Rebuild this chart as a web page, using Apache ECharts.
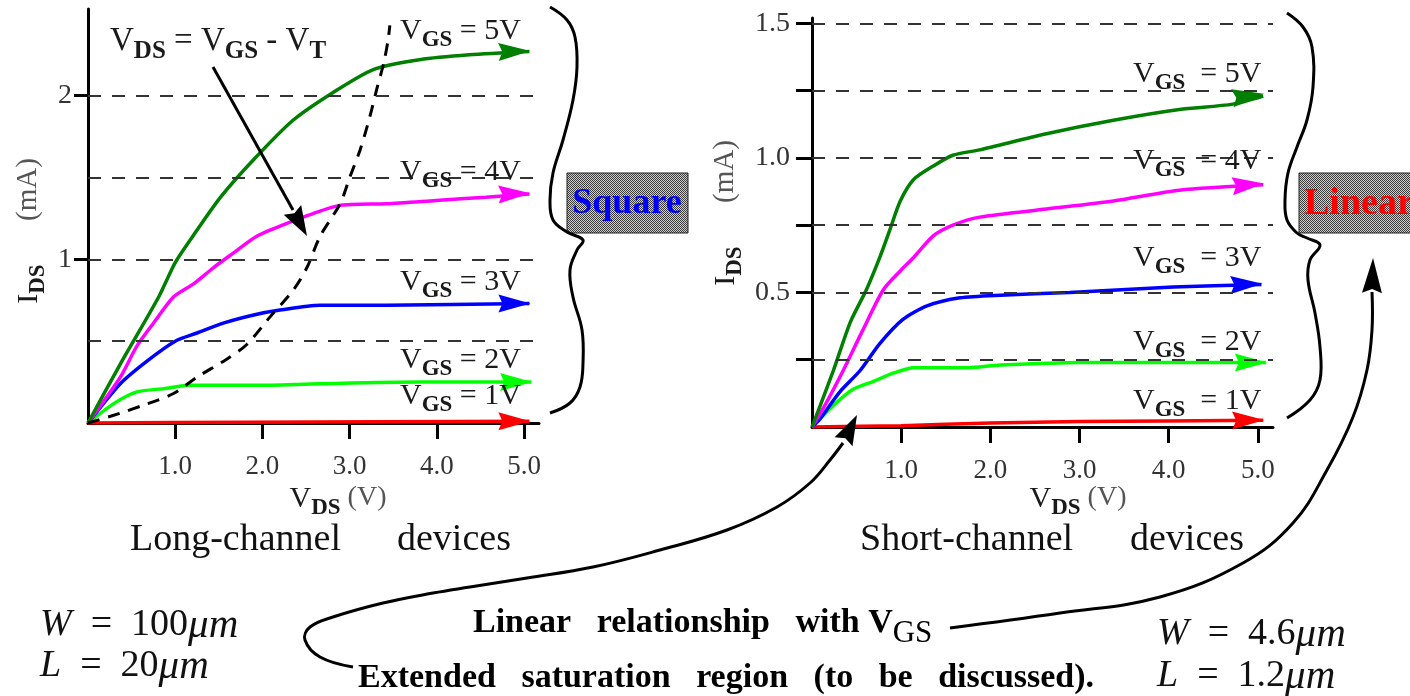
<!DOCTYPE html>
<html><head><meta charset="utf-8">
<script src="https://cdn.jsdelivr.net/npm/echarts@6/dist/echarts.min.js"></script>
<style>html,body{margin:0;padding:0;background:#fff}#c{width:1410px;height:696px}</style>
</head><body><div id="c"></div>
<script>
// ---------- axis ticks / labels ----------
const xTicks = [1, 2, 3, 4, 5];
const leftYTicks = [1, 2];
const leftGridY = [0.5, 1, 1.5, 2];
const rightYTicks = [0.25, 0.5, 0.75, 1.0, 1.25, 1.5];
const rightYLabels = [0.5, 1.0, 1.5];
const rightGridY = [0.25, 0.5, 0.75, 1.0, 1.25, 1.5];

// ---------- long-channel device: [VDS (V), IDS (mA)] ----------
const longVgs5 = [[0,0],[0.37,0.36],[0.81,0.77],[1.0,0.98],[1.2,1.14],[1.52,1.38],[1.9,1.61],[2.35,1.85],[2.81,2.02],[3.27,2.16],[3.8,2.22],[4.37,2.25],[5.06,2.27]];
const longVgs4 = [[0,0],[0.37,0.28],[0.56,0.47],[0.75,0.61],[0.98,0.77],[1.21,0.85],[1.44,0.95],[1.67,1.04],[1.93,1.14],[2.28,1.22],[2.58,1.28],[2.89,1.33],[3.42,1.34],[3.99,1.36],[4.56,1.38],[5.06,1.40]];
const longVgs3 = [[0,0],[0.37,0.24],[0.68,0.38],[1.0,0.50],[1.25,0.55],[1.55,0.61],[1.9,0.66],[2.2,0.69],[2.66,0.72],[3.42,0.72],[5.06,0.73]];
const longVgs2 = [[0,0],[0.3,0.12],[0.56,0.19],[0.87,0.21],[1.17,0.23],[1.9,0.23],[2.66,0.24],[3.8,0.25],[5.08,0.25]];
const longVgs1 = [[0,0],[1.8,0.005],[5.06,0.01]];
const longLocus = [[0,0],[0.37,0.06],[0.64,0.11],[0.98,0.18],[1.25,0.28],[1.59,0.39],[1.82,0.48],[2.09,0.65],[2.35,0.81],[2.51,0.95],[2.66,1.14],[2.89,1.34],[3.0,1.5],[3.12,1.67],[3.23,1.87],[3.31,2.04],[3.39,2.2],[3.44,2.34],[3.46,2.43]];

// ---------- short-channel device ----------
const shortVgs5 = [[0,0],[0.24,0.21],[0.43,0.39],[0.61,0.51],[0.76,0.63],[0.87,0.73],[0.99,0.84],[1.14,0.92],[1.36,0.97],[1.58,1.01],[1.88,1.03],[2.63,1.09],[3.38,1.14],[4.12,1.18],[4.72,1.2],[5.06,1.23]];
const shortVgs4 = [[0,0],[0.16,0.09],[0.35,0.21],[0.57,0.36],[0.8,0.51],[0.99,0.58],[1.14,0.63],[1.36,0.71],[1.58,0.75],[1.88,0.78],[2.63,0.81],[3.38,0.84],[4.12,0.88],[5.06,0.90]];
const shortVgs3 = [[0,0],[0.09,0.03],[0.31,0.13],[0.54,0.21],[0.76,0.31],[1.02,0.40],[1.29,0.45],[1.66,0.48],[2.11,0.49],[2.89,0.50],[4.05,0.52],[5.04,0.53]];
const shortVgs2 = [[0,0],[0.24,0.08],[0.46,0.14],[0.69,0.17],[0.91,0.2],[1.14,0.22],[1.73,0.22],[2.11,0.23],[3.0,0.24],[5.09,0.24]];
const shortVgs1 = [[0,0],[1.0,0.005],[2.0,0.015],[3.0,0.02],[5.06,0.025]];

const SERIF = '"Liberation Serif", "Times New Roman", serif';
const ARROW = 'path://M9,0 L18,32 L9,28 L0,32 Z';

function xAx(gi) {
  return {
    type: 'value', gridIndex: gi, min: 0, max: 5.17, interval: 1,
    axisLine: { show: true, onZero: false, lineStyle: { color: '#000', width: 3 } },
    axisTick: { show: true, customValues: xTicks, length: 16, lineStyle: { color: '#000', width: 3 } },
    axisLabel: { customValues: xTicks, formatter: v => Number(v).toFixed(1), color: '#333', fontFamily: SERIF, fontSize: 27, margin: 30 },
    splitLine: { show: false }
  };
}
const yAxes = [
  { type: 'value', gridIndex: 0, min: 0, max: 2.53, interval: 0.5,
    axisLine: { show: true, onZero: false, lineStyle: { color: '#000', width: 3 } },
    axisTick: { show: true, customValues: leftYTicks, length: 14, lineStyle: { color: '#000', width: 3 } },
    axisLabel: { customValues: leftYTicks, formatter: v => String(v), color: '#333', fontFamily: SERIF, fontSize: 28, margin: 16 },
    splitLine: { show: false } },
  { type: 'value', gridIndex: 1, min: 0, max: 1.52, interval: 0.25,
    axisLine: { show: true, onZero: false, lineStyle: { color: '#000', width: 3 } },
    axisTick: { show: true, customValues: rightYTicks, length: 16, lineStyle: { color: '#000', width: 3 } },
    axisLabel: { customValues: rightYLabels, formatter: v => Number(v).toFixed(1), color: '#333', fontFamily: SERIF, fontSize: 28, margin: 22 },
    splitLine: { show: false } }
];

function curve(data, color, gi, rot) {
  const d = data.map((p, i) => i === data.length - 1
    ? { value: p, symbol: ARROW, symbolSize: [18, 32], symbolRotate: rot, symbolOffset: [-15, 0], itemStyle: { color: color } }
    : p);
  return { type: 'line', xAxisIndex: gi, yAxisIndex: gi, data: d, symbol: 'none', smooth: 0.25,
    lineStyle: { color: color, width: 3.5 }, itemStyle: { color: color }, silent: true, z: 3 };
}
function gridSeries(gi, vals) {
  return { type: 'line', xAxisIndex: gi, yAxisIndex: gi, data: [], silent: true, z: 1,
    markLine: { silent: true, symbol: ['none', 'none'], label: { show: false },
      lineStyle: { color: '#333', width: 2, type: [13, 11] },
      data: vals.map(v => ({ yAxis: v })) } };
}

const GREEN = '#007f00', MAG = '#ff00ff', BLUE = '#0000ff', LIME = '#00ff00', RED = '#ff0000';

// ---------- annotation helpers ----------
const rich = {
  v: { fontFamily: SERIF, fontSize: 30, fill: '#1a1a1a', verticalAlign: 'top', lineHeight: 32 },
  s: { fontFamily: SERIF, fontSize: 23, fontWeight: 'bold', fill: '#1a1a1a', verticalAlign: 'top', lineHeight: 32, padding: [13, 0, 0, 0] },
  V: { fontFamily: SERIF, fontSize: 33, fill: '#1a1a1a', verticalAlign: 'top', lineHeight: 34 },
  S: { fontFamily: SERIF, fontSize: 25, fontWeight: 'bold', fill: '#1a1a1a', verticalAlign: 'top', lineHeight: 34, padding: [14, 0, 0, 0] },
  g: { fontFamily: SERIF, fontSize: 28, fill: '#555', verticalAlign: 'top', lineHeight: 32 },
  gy: { fontFamily: SERIF, fontSize: 29, fill: '#555', verticalAlign: 'top', lineHeight: 32 },
  bb: { fontFamily: SERIF, fontSize: 34, fontWeight: 'bold', fill: '#000', verticalAlign: 'top', lineHeight: 36 },
  bs: { fontFamily: SERIF, fontSize: 31, fill: '#000', verticalAlign: 'top', lineHeight: 36, padding: [12, 0, 0, 0] },
  mi: { fontFamily: SERIF, fontSize: 38, fontStyle: 'italic', fill: '#111', verticalAlign: 'top', lineHeight: 40 },
  mu: { fontFamily: SERIF, fontSize: 41, fontStyle: 'italic', fill: '#111', verticalAlign: 'top', lineHeight: 40 },
  mn: { fontFamily: SERIF, fontSize: 38, fill: '#111', verticalAlign: 'top', lineHeight: 40 }
};
function rt(x, y, text) {
  return { type: 'text', x: x, y: y, silent: true, z: 10,
    style: { text: text, rich: rich, align: 'left', verticalAlign: 'middle' } };
}
function rc(x, y, text, rotation) {
  return { type: 'text', x: x, y: y, rotation: rotation || 0, silent: true, z: 10,
    style: { text: text, rich: rich, align: 'center', verticalAlign: 'middle' } };
}
function plain(x, y, text, font, fill, align) {
  return { type: 'text', x: x, y: y, silent: true, z: 10,
    style: { text: text, font: font, fill: fill || '#111', align: align || 'left', verticalAlign: 'middle' } };
}
function poly(points) {
  return { type: 'polyline', silent: true, z: 8, shape: { points: points, smooth: 0.4 },
    style: { stroke: '#000', lineWidth: 3, fill: null } };
}
function head(from, tip, L, W) {
  const dx = tip[0] - from[0], dy = tip[1] - from[1], d = Math.hypot(dx, dy), ux = dx / d, uy = dy / d;
  const bx = tip[0] - ux * L, by = tip[1] - uy * L;
  return { type: 'polygon', silent: true, z: 9,
    shape: { points: [tip, [bx - uy * W / 2, by + ux * W / 2], [bx + ux * 4, by + uy * 4], [bx + uy * W / 2, by - ux * W / 2]] },
    style: { fill: '#000' } };
}

const pc = document.createElement('canvas'); pc.width = 2; pc.height = 2;
const pg = pc.getContext('2d'); pg.fillStyle = '#d0d0d0'; pg.fillRect(0, 0, 2, 2);
pg.fillStyle = '#3a3a3a'; pg.fillRect(0, 0, 1, 1); pg.fillRect(1, 1, 1, 1);
const halftone = { image: pc, repeat: 'repeat' };

const graphics = [
  // axis titles
  rc(338, 500, '{v|V}{s|DS}{g| (V)}'),
  rc(1078, 500, '{v|V}{s|DS}{g| (V)}'),
  rc(30, 231, '{v|I}{s|DS}{gy|      (mA)}', Math.PI / 2),
  rc(727, 213, '{v|I}{s|DS}{gy|      (mA)}', Math.PI / 2),
  // device captions
  plain(130, 540, 'Long-channel', '38px ' + SERIF),
  plain(397, 540, 'devices', '38px ' + SERIF),
  plain(860, 540, 'Short-channel', '38px ' + SERIF),
  plain(1130, 540, 'devices', '38px ' + SERIF),
  // curve labels - left
  rt(110, 42, '{V|V}{S|DS}{V| = V}{S|GS}{V| - V}{S|T}'),
  rt(400, 32, '{v|V}{s|GS}{v| = 5V}'),
  rt(400, 173, '{v|V}{s|GS}{v| = 4V}'),
  rt(400, 283, '{v|V}{s|GS}{v| = 3V}'),
  rt(400, 361, '{v|V}{s|GS}{v| = 2V}'),
  rt(400, 397, '{v|V}{s|GS}{v| = 1V}'),
  // curve labels - right
  rt(1133, 75, '{v|V}{s|GS}{v|  = 5V}'),
  rt(1133, 162, '{v|V}{s|GS}{v|  = 4V}'),
  rt(1133, 259, '{v|V}{s|GS}{v|  = 3V}'),
  rt(1133, 343, '{v|V}{s|GS}{v|  = 2V}'),
  rt(1133, 402, '{v|V}{s|GS}{v|  = 1V}'),
  // bottom texts
  rt(473, 624, '{bb|Linear   relationship   with V}{bs|GS}'),
  rt(358, 679, '{bb|Extended   saturation   region   (to   be   discussed).}'),
  rt(40, 626, '{mi|W}{mn|  =  100}{mu|μm}'),
  rt(40, 667, '{mi|L}{mn|  =  20}{mu|μm}'),
  rt(1157, 635, '{mi|W}{mn|  =  4.6}{mu|μm}'),
  rt(1157, 677, '{mi|L}{mn|  =  1.2}{mu|μm}'),
  // boxes
  { type: 'rect', silent: true, z: 7, shape: { x: 567, y: 173, width: 121, height: 60 }, style: { fill: halftone, stroke: '#222', lineWidth: 1 } },
  plain(627, 204, 'Square', 'bold 36px ' + SERIF, '#0000ff', 'center'),
  { type: 'rect', silent: true, z: 7, shape: { x: 1299, y: 173, width: 130, height: 60 }, style: { fill: halftone, stroke: '#222', lineWidth: 1 } },
  plain(1304, 204, 'Linear', 'bold 38px ' + SERIF, '#ff0000', 'left'),
  // braces
  poly([[550,7],[567,20],[575,37],[577,67],[573,100],[563,140],[553,173],[550,200],[553,220],[567,232],[583,240],[577,250],[570,270],[573,297],[582,330],[583,363],[580,387],[570,403],[550,413]]),
  poly([[1287,13],[1303,27],[1312,47],[1313,87],[1307,120],[1297,147],[1288,173],[1285,200],[1287,220],[1297,233],[1307,238],[1320,245],[1310,260],[1308,280],[1315,313],[1320,347],[1320,380],[1310,400],[1287,418]]),
  // annotation arrow (left chart)
  poly([[213,67],[293,210]]),
  head([213,67], [307,236], 30, 20),
  // long curved arrows
  poly([[353,667],[320,657],[305,640],[310,627],[333,617],[383,603],[433,593],[470,587],[527,578],[593,567],[660,550],[727,530],[777,507],[810,483],[830,460],[843,443]]),
  head([843,443], [857,415], 30, 20),
  poly([[950,628],[1060,613],[1160,597],[1243,563],[1293,523],[1327,470],[1353,417],[1367,370],[1372,330],[1372,292]]),
  head([1372,292], [1373,258], 35, 20)
];

const option = {
  animation: false,
  backgroundColor: '#fff',
  grid: [
    { left: 88, top: 9, width: 451, height: 414, outerBoundsMode: 'none' },
    { left: 812, top: 18, width: 461, height: 409, outerBoundsMode: 'none' }
  ],
  xAxis: [xAx(0), xAx(1)],
  yAxis: yAxes,
  series: [
    gridSeries(0, leftGridY),
    gridSeries(1, rightGridY),
    curve(longVgs1, RED, 0, -90),
    curve(longVgs2, LIME, 0, -90),
    curve(longVgs3, BLUE, 0, -90),
    curve(longVgs4, MAG, 0, -88),
    curve(longVgs5, GREEN, 0, -88),
    { type: 'line', xAxisIndex: 0, yAxisIndex: 0, data: longLocus, symbol: 'none', smooth: 0.3, silent: true, z: 4,
      lineStyle: { color: '#000', width: 3, type: [12, 9] } },
    curve(shortVgs1, RED, 1, -89),
    curve(shortVgs2, LIME, 1, -90),
    curve(shortVgs3, BLUE, 1, -88),
    curve(shortVgs4, MAG, 1, -85),
    curve(shortVgs5, GREEN, 1, -82)
  ],
  graphic: graphics
};
const chart = echarts.init(document.getElementById('c'), null, { renderer: 'canvas' });
chart.setOption(option);
</script>
</body></html>
